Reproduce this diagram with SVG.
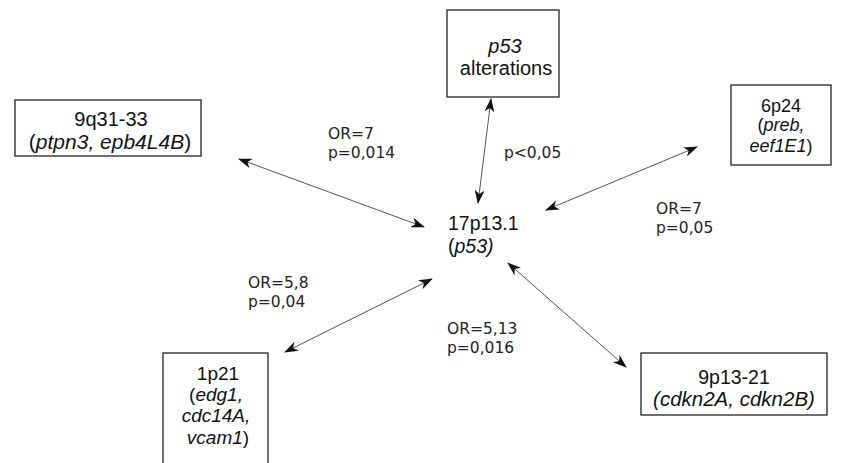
<svg xmlns="http://www.w3.org/2000/svg" width="842" height="463" viewBox="0 0 842 463">
<style>
.box{fill:#fff;stroke:#222;stroke-width:1.3}
.t{font-family:"Liberation Sans",Arial,sans-serif;fill:#111;text-anchor:middle}
.i{font-style:italic}
.lab{font-family:"DejaVu Sans",Verdana,sans-serif;font-size:15.5px;fill:#222}
.con{stroke:#555;stroke-width:1;fill:none;marker-start:url(#ah);marker-end:url(#ah)}
</style>
<defs>
<marker id="ah" viewBox="0 0 14 10" refX="13" refY="5" markerWidth="14" markerHeight="10" markerUnits="userSpaceOnUse" orient="auto-start-reverse">
<path d="M0,0 L14,5 L0,10 L4,5 z" fill="#111"/>
</marker>
</defs>
<rect width="842" height="463" fill="#fff"/>
<g id="connectors">
<line class="con" x1="239" y1="159" x2="424" y2="227"/>
<line class="con" x1="491" y1="99" x2="478" y2="203"/>
<line class="con" x1="546" y1="210" x2="697" y2="147"/>
<line class="con" x1="285" y1="352" x2="432" y2="279"/>
<line class="con" x1="508" y1="263" x2="626" y2="367"/>
</g>
<g id="center">
<text class="t" x="448" y="230" font-size="19.5" style="text-anchor:start">17p13.1</text>
<text class="t" x="448" y="253" font-size="19.5" style="text-anchor:start">(<tspan class="i">p53)</tspan></text>
</g>
<g id="p53alt">
<rect class="box" x="447" y="10" width="112" height="87"/>
<text class="t i" x="505" y="53" font-size="20">p53</text>
<text class="t" x="506" y="75" font-size="20">alterations</text>
</g>
<g id="n9q31">
<rect class="box" x="15" y="100" width="186" height="56"/>
<text class="t" x="111" y="126" font-size="20">9q31-33</text>
<text class="t" x="110" y="149" font-size="21">(<tspan class="i">ptpn3, epb4L4B</tspan>)</text>
</g>
<g id="n6p24">
<rect class="box" x="731" y="85" width="100" height="80"/>
<text class="t" x="781" y="112" font-size="18">6p24</text>
<text class="t" x="781" y="131" font-size="18">(<tspan class="i">preb,</tspan></text>
<text class="t" x="781" y="152" font-size="18"><tspan class="i">eef1E1</tspan>)</text>
</g>
<g id="n1p21">
<rect class="box" x="163" y="353" width="105" height="115"/>
<text class="t" x="218" y="380" font-size="19">1p21</text>
<text class="t" x="216" y="401" font-size="19">(<tspan class="i">edg1,</tspan></text>
<text class="t" x="216" y="422" font-size="19"><tspan class="i">cdc14A,</tspan></text>
<text class="t" x="218" y="444" font-size="19"><tspan class="i">vcam1</tspan>)</text>
</g>
<g id="n9p13">
<rect class="box" x="641" y="353" width="186" height="62"/>
<text class="t" x="734" y="384" font-size="19.5">9p13-21</text>
<text class="t i" x="734" y="406" font-size="20.5">(cdkn2A, cdkn2B)</text>
</g>
<g id="labels">
<text class="lab" x="328" y="139">OR=7</text>
<text class="lab" x="328" y="158">p=0,014</text>
<text class="lab" x="504" y="158">p&lt;0,05</text>
<text class="lab" x="656" y="214">OR=7</text>
<text class="lab" x="656" y="233">p=0,05</text>
<text class="lab" x="248" y="288">OR=5,8</text>
<text class="lab" x="248" y="307">p=0,04</text>
<text class="lab" x="447" y="334">OR=5,13</text>
<text class="lab" x="447" y="353">p=0,016</text>
</g>
</svg>
